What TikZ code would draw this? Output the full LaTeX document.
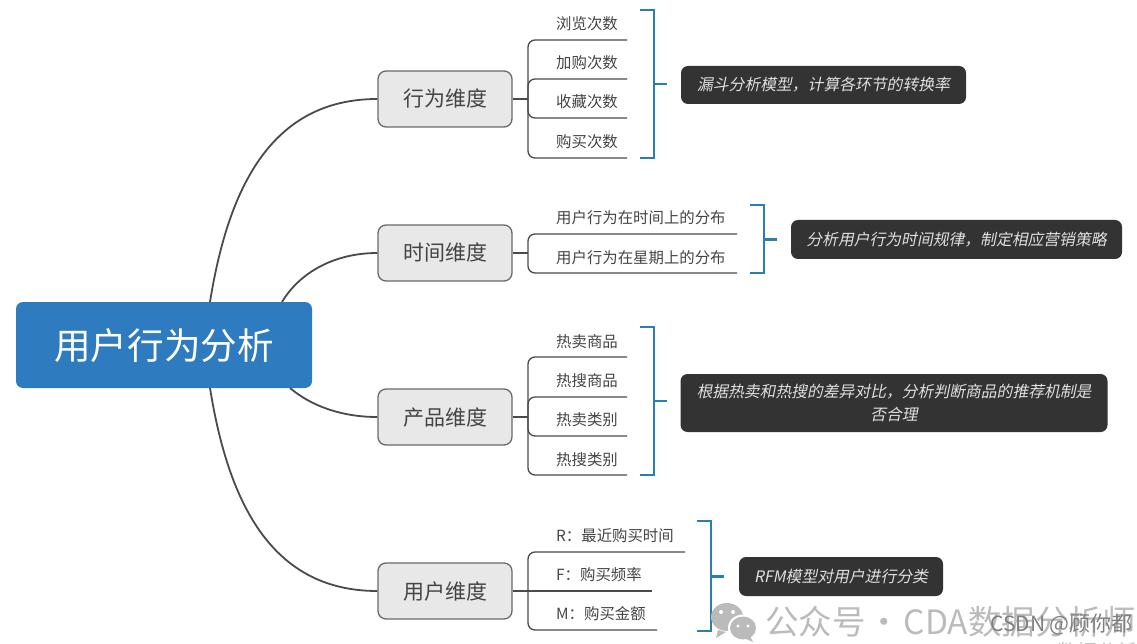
\documentclass[tikz,border=0pt]{standalone}
\usepackage{fontspec}
\setmainfont{Noto Sans CJK SC}
\newfontfamily\slantcjk[FakeSlant=0.2]{Noto Sans CJK SC}
\definecolor{linec}{HTML}{4A4A4A}
\definecolor{rootc}{HTML}{2F7BBF}
\definecolor{branchf}{HTML}{E8E8E8}
\definecolor{branchd}{HTML}{6A6A6A}
\definecolor{notec}{HTML}{333333}
\definecolor{brk}{HTML}{2A7FAE}
\definecolor{wm}{HTML}{BBBBBB}
\definecolor{txt}{HTML}{444444}
\tikzset{
  rootbox/.style={fill=rootc,rounded corners=7pt,text=white,font=\fontsize{36.6}{40}\selectfont,minimum width=296pt,minimum height=86pt,inner sep=0pt,text height=30pt,text depth=2pt},
  branchbox/.style={fill=branchf,draw=branchd,line width=1.3pt,rounded corners=8pt,text=txt,font=\fontsize{21}{24}\selectfont,minimum width=134pt,minimum height=56pt,inner sep=0pt,text height=18pt,text depth=2pt},
  leaf/.style={anchor=west,inner sep=0pt,text=txt,font=\fontsize{15.4}{18}\selectfont},
  note/.style={fill=notec,rounded corners=7pt,text=white!88!black,align=center,inner sep=0pt,font=\fontsize{15.8}{23}\slantcjk\selectfont},
  conn/.style={draw=linec,line width=1.3pt},
  curve/.style={draw=linec,line width=1.8pt},
  bracket/.style={draw=brk,line width=2.6pt}
}
\begin{document}
\begin{tikzpicture}[x=1pt,y=-1pt]
\useasboundingbox (0,0) rectangle (1137,644);
\clip (0,0) rectangle (1137,644);
% nodes
\node[rootbox] (root) at (164,345) {用户行为分析};
\node[branchbox] (b1) at (445,99) {行为维度};
\node[branchbox] (b2) at (445,253) {时间维度};
\node[branchbox] (b3) at (445,417) {产品维度};
\node[branchbox] (b4) at (445,591) {用户维度};
% root anchors
\coordinate (r1) at (210,302);
\coordinate (r2) at (282,302);
\coordinate (r3) at (290,388);
\coordinate (r4) at (210,388);
\draw[curve] (r1) .. controls (228,190) and (270,99) .. (b1.west);
\draw[curve] (r2) .. controls (300,272) and (335,253) .. (b2.west);
\draw[curve] (r3) .. controls (310,405) and (340,417) .. (b3.west);
\draw[curve] (r4) .. controls (228,500) and (270,591) .. (b4.west);
% leaves group 1
\node[leaf] (a1) at (556,24) {浏览次数};
\node[leaf] (a2) at (556,63) {加购次数};
\node[leaf] (a3) at (556,102) {收藏次数};
\node[leaf] (a4) at (556,142) {购买次数};
\coordinate (a1e) at (627,40);
\coordinate (a2e) at (627,79);
\coordinate (a3e) at (627,118);
\coordinate (a4e) at (627,158);
\coordinate (s1) at (528,99);
\draw[conn] (b1.east) -- (s1);
\foreach \n in {a1e,a2e,a3e,a4e} \draw[conn,rounded corners=7pt] (s1) |- (\n);
% group 2
\node[leaf] (c1) at (556,218) {用户行为在时间上的分布};
\node[leaf] (c2) at (556,258) {用户行为在星期上的分布};
\coordinate (c1e) at (737,234);
\coordinate (c2e) at (737,273);
\coordinate (s2) at (528,253);
\draw[conn] (b2.east) -- (s2);
\foreach \n in {c1e,c2e} \draw[conn,rounded corners=7pt] (s2) |- (\n);
% group 3
\node[leaf] (d1) at (556,342) {热卖商品};
\node[leaf] (d2) at (556,381) {热搜商品};
\node[leaf] (d3) at (556,420) {热卖类别};
\node[leaf] (d4) at (556,460) {热搜类别};
\coordinate (d1e) at (627,357);
\coordinate (d2e) at (627,397);
\coordinate (d3e) at (627,436);
\coordinate (d4e) at (627,475);
\coordinate (s3) at (528,417);
\draw[conn] (b3.east) -- (s3);
\foreach \n in {d1e,d2e,d3e,d4e} \draw[conn,rounded corners=7pt] (s3) |- (\n);
% group 4
\node[leaf] (e1) at (556,536) {R：最近购买时间};
\node[leaf] (e2) at (556,575) {F：购买频率};
\node[leaf] (e3) at (556,614) {M：购买金额};
\coordinate (e1e) at (685,552);
\coordinate (e2e) at (652,591);
\coordinate (e3e) at (657,630);
\coordinate (s4) at (528,591);
\draw[conn] (b4.east) -- (e2e);
\foreach \n in {e1e,e3e} \draw[conn,rounded corners=7pt] (s4) |- (\n);
% notes
\node[note,minimum width=285pt,minimum height=38pt] (n1) at (823.5,85) {漏斗分析模型，计算各环节的转换率};
\node[note,minimum width=331pt,minimum height=39pt] (n2) at (956.5,239.5) {分析用户行为时间规律，制定相应营销策略};
\node[note,minimum width=427pt,minimum height=58pt] (n3) at (894,403) {根据热卖和热搜的差异对比，分析判断商品的推荐机制是\\否合理};
\node[note,minimum width=204pt,minimum height=39pt] (n4) at (841,576.5) {RFM模型对用户进行分类};
% brackets
\draw[bracket] (640,10) -- (654,10) -- (654,158) -- (640,158);
\draw[bracket] (654,84) -- (667,84);
\draw[bracket] (750,205) -- (764,205) -- (764,273) -- (750,273);
\draw[bracket] (764,239.5) -- (777,239.5);
\draw[bracket] (640,327) -- (654,327) -- (654,475) -- (640,475);
\draw[bracket] (654,401) -- (667,401);
\draw[bracket] (697,521) -- (711,521) -- (711,631) -- (697,631);
\draw[bracket] (711,576.5) -- (724,576.5);
% watermark
\fill[wm] (727,617) ellipse (16pt and 14pt);
\fill[wm] (718,630) -- (716,638) -- (726,632) -- cycle;
\fill[white] (743,628) ellipse (15pt and 13.5pt);
\fill[wm] (743,628) ellipse (13pt and 11.5pt);
\fill[wm] (750,636) -- (753,642) -- (744,638) -- cycle;
\fill[white] (721,612) circle (2pt) (733,612) circle (2pt) (738,626) circle (1.6pt) (748,626) circle (1.6pt);
\node[anchor=west,inner sep=0pt,text=wm,font=\fontsize{33.5}{36}\selectfont] (wm1) at (765,622) {公众号\makebox[38pt][c]{·}CDA数据分析师};
\node[anchor=west,inner sep=0pt,text=black!50,font=\fontsize{21}{23}\selectfont] (wm2) at (990,625) {CSDN @顾你都};
\node[anchor=west,inner sep=0pt,text=wm,font=\fontsize{20}{22}\selectfont] (wm3) at (1057,652) {数据分析};
\end{tikzpicture}
\end{document}
